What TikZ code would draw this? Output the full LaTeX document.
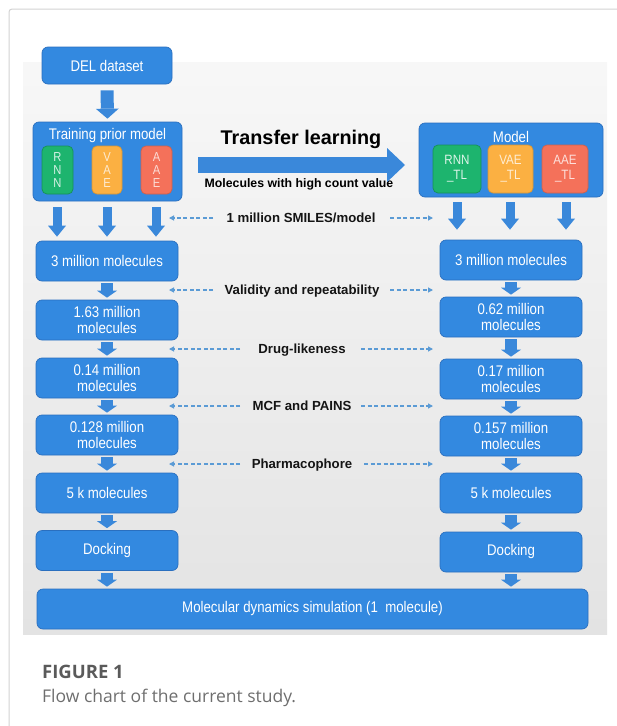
\documentclass[tikz,border=0pt]{standalone}
\usepackage{fontspec}
\setmainfont{Liberation Sans}
\newfontfamily\narrowfont[FakeStretch=0.86]{Liberation Sans}
\newfontfamily\capfont{Open Sans}
\usetikzlibrary{arrows.meta,calc}
\definecolor{boxblue}{HTML}{3389E0}
\definecolor{boxedge}{HTML}{2A6FBF}
\definecolor{arrblue}{HTML}{3A88DA}
\definecolor{dashblue}{HTML}{5B9BD5}
\definecolor{subgreen}{HTML}{1DB46E}
\definecolor{suborange}{HTML}{FBB042}
\definecolor{subred}{HTML}{F4715A}
\definecolor{capgray}{HTML}{5A5A5A}
\definecolor{capgray2}{HTML}{6E6E6E}
\definecolor{cardgray}{HTML}{D2D2D2}
\tikzset{
  bbox/.style={rounded corners=6pt, fill=boxblue, draw=boxedge, line width=0.7pt,
    text=white, align=center, inner sep=0pt,
    font=\narrowfont\fontsize{15.4}{16.7}\selectfont},
  colbox/.style={bbox, minimum width=142pt, minimum height=40pt},
  subbox/.style={rounded corners=5pt, line width=0.7pt, align=center, inner sep=0pt,
    minimum height=48pt},
  stackfont/.style={font=\narrowfont\fontsize{13}{13}\selectfont},
  tlfont/.style={font=\narrowfont\fontsize{13.5}{15}\selectfont},
  titletext/.style={text=white, inner sep=0pt, font=\narrowfont\fontsize{15.4}{16.7}\selectfont},
  midlab/.style={inner sep=0pt, anchor=base, text=black!92,
    font=\bfseries\fontsize{13.2}{14}\selectfont},
  barrow/.style={draw=arrblue, line width=12pt,
    -{Triangle[width=20pt,length=7pt,line width=0pt]}, shorten <=2pt, shorten >=2pt},
  barrowbig/.style={draw=arrblue, line width=13pt,
    -{Triangle[width=23pt,length=10pt,line width=0pt]}, shorten <=6pt, shorten >=3pt},
  barrowmid/.style={draw=arrblue, line width=9pt,
    -{Triangle[width=18pt,length=11pt,line width=0pt]}},
  dasharrow/.style={draw=dashblue, line width=1.1pt, dash pattern=on 4pt off 2.5pt,
    -{Triangle[length=5pt,width=5pt]}},
}
\begin{document}
\begin{tikzpicture}[x=1pt,y=-1pt]
\useasboundingbox (0,0) rectangle (617,726);
% card border
\draw[cardgray, line width=1pt, rounded corners=3pt] (9,727) -- (9,9) -- (618,9);
% gray panel
\shade[top color=black!3, bottom color=black!11] (23,62) rectangle (607,634);

% left column
\node[bbox, minimum width=130pt, minimum height=37pt] (del) at (107,65.5) {DEL dataset};
\node[bbox, minimum width=149pt, minimum height=79pt] (train) at (107.5,161.5) {};
\node[titletext] (trainT) at (107.5,136) {Training prior model};
\node[subbox, fill=subgreen, draw=subgreen!80!black, minimum width=31pt, text=white!82!subgreen, stackfont] (rnn) at (57.5,170) {R\\N\\N};
\node[subbox, fill=suborange, draw=suborange!85!black, minimum width=30pt, text=white!75!suborange, stackfont] (vae) at (107,170) {V\\A\\E};
\node[subbox, fill=subred, draw=subred!85!black, minimum width=31pt, text=white!75!subred, stackfont] (aae) at (156.5,170) {A\\A\\E};

\node[colbox] (m3L) at (107,261) {3 million molecules};
\node[colbox] (L163) at (107,320) {1.63 million\\molecules};
\node[colbox] (L014) at (107,378) {0.14 million\\molecules};
\node[colbox] (L0128) at (107,435) {0.128 million\\molecules};
\node[colbox] (L5k) at (107,493) {5 k molecules};
\node[colbox] (Ldock) at (107,550.5) {Docking};

% right column
\node[bbox, minimum width=184pt, minimum height=74pt] (model) at (511,160) {};
\node[titletext] (modelT) at (511,137) {Model};
\node[subbox, fill=subgreen, draw=subgreen!80!black, minimum width=48pt, text=white!85!subgreen, tlfont] (rnntl) at (457,169) {RNN\\\_TL};
\node[subbox, fill=suborange, draw=suborange!85!black, minimum width=45pt, text=white!78!suborange, tlfont] (vaetl) at (510.5,169) {VAE\\\_TL};
\node[subbox, fill=subred, draw=subred!85!black, minimum width=46pt, text=white!78!subred, tlfont] (aaetl) at (565,169) {AAE\\\_TL};

\node[colbox] (m3R) at (511,260) {3 million molecules};
\node[colbox] (R062) at (511,317) {0.62 million\\molecules};
\node[colbox] (R017) at (511,379) {0.17 million\\molecules};
\node[colbox] (R0157) at (511,436) {0.157 million\\molecules};
\node[colbox] (R5k) at (511,493) {5 k molecules};
\node[colbox] (Rdock) at (511,552) {Docking};

% bottom
\node[bbox, minimum width=551pt, minimum height=40pt] (md) at (312.5,609) {Molecular dynamics simulation (1\ \ molecule)};

% transfer learning
\node[inner sep=0pt, anchor=base, font=\bfseries\fontsize{19.8}{22}\selectfont] (tl) at (301,144) {Transfer learning};
\node[inner sep=0pt, anchor=base, font=\bfseries\fontsize{12.3}{14}\selectfont] (mhc) at (299,187) {Molecules with high count value};
\coordinate (tlA) at (198,165);
\coordinate (tlB) at (405,165);
\draw[draw=arrblue, line width=16pt, -{Triangle[width=34pt,length=18pt,line width=0pt]}] (tlA) -- (tlB);

% block arrows left
\draw[barrowbig] (del.south) -- (train.north);
\foreach \xx in {57,107,156}{
  \draw[barrowmid, shorten <=6pt, shorten >=4pt] (train.south -| \xx,0) -- (m3L.north -| \xx,0);
}
\draw[barrow] (m3L) -- (L163);
\draw[barrow] (L163) -- (L014);
\draw[barrow] (L014) -- (L0128);
\draw[barrow] (L0128) -- (L5k);
\draw[barrow] (L5k) -- (Ldock);
\draw[barrow] (Ldock.south) -- (Ldock.south |- md.north);
% block arrows right
\foreach \xx in {457,510,566}{
  \draw[barrowmid, shorten <=5pt, shorten >=10pt] (model.south -| \xx,0) -- (m3R.north -| \xx,0);
}
\draw[barrow] (m3R) -- (R062);
\draw[barrow] (R062) -- (R017);
\draw[barrow] (R017) -- (R0157);
\draw[barrow] (R0157) -- (R5k);
\draw[barrow] (R5k) -- (Rdock);
\draw[barrow] (Rdock.south) -- (Rdock.south |- md.north);

% middle labels with dashed arrows
\node[midlab] (lab1) at (301,222.7) {1 million SMILES/model};
\node[midlab] (lab2) at (302,294.7) {Validity and repeatability};
\node[midlab] (lab3) at (302,353.7) {Drug-likeness};
\node[midlab] (lab4) at (302,410.7) {MCF and PAINS};
\node[midlab] (lab5) at (302,468.7) {Pharmacophore};
\coordinate (e1L) at (169,218); \coordinate (e1R) at (433,218);
\coordinate (e2L) at (169,290); \coordinate (e2R) at (433,290);
\coordinate (e3L) at (169,349); \coordinate (e3R) at (433,349);
\coordinate (e4L) at (169,406); \coordinate (e4R) at (433,406);
\coordinate (e5L) at (169,464); \coordinate (e5R) at (433,464);
\draw[dasharrow] (213,218) -- (e1L);
\draw[dasharrow] (390,218) -- (e1R);
\draw[dasharrow] (213,290) -- (e2L);
\draw[dasharrow] (390,290) -- (e2R);
\draw[dasharrow] (240,349) -- (e3L);
\draw[dasharrow] (361,349) -- (e3R);
\draw[dasharrow] (240,406) -- (e4L);
\draw[dasharrow] (361,406) -- (e4R);
\draw[dasharrow] (240,464) -- (e5L);
\draw[dasharrow] (364,464) -- (e5R);

% caption
\node[anchor=base west, inner sep=0pt, text=capgray, font=\capfont\bfseries\fontsize{18.5}{20}\selectfont] (cap1) at (42,678) {FIGURE 1};
\node[anchor=base west, inner sep=0pt, text=capgray2, font=\capfont\fontsize{17.5}{20}\selectfont] (cap2) at (42,702) {Flow chart of the current study.};
\end{tikzpicture}
\end{document}
